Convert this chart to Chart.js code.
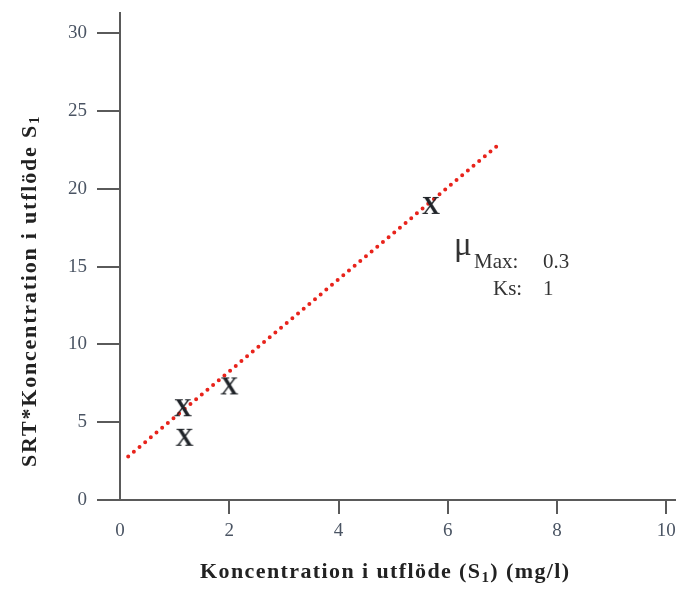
<!DOCTYPE html>
<html>
<head>
<meta charset="utf-8">
<script src="https://cdn.jsdelivr.net/npm/chart.js@4"></script>
<style>
  body { margin: 0; background: #fff; }
</style>
</head>
<body>
<canvas id="myChart" width="692" height="590"></canvas>
<script>
// measured points (S1, SRT*S1)
let pointsX = [1.15, 1.18, 2.0, 5.69];
let pointsY = [5.9, 4.0, 7.3, 18.9];

// fitted line, start and end
let trendX = [0.15, 6.95];
let trendY = [2.8, 22.9];

let xTicks = [0, 2, 4, 6, 8, 10];
let yTicks = [0, 5, 10, 15, 20, 25, 30];

let muMax = 0.3;
let ks = 1;

// the "X" marker used for each point
let xMark = document.createElement('canvas');
xMark.width = 30;
xMark.height = 30;
let mctx = xMark.getContext('2d');
mctx.font = 'bold 25px "Liberation Serif"';
mctx.fillStyle = '#1f2328';
mctx.textAlign = 'center';
mctx.textBaseline = 'alphabetic';
mctx.fillText('X', 15, 23.3);

let tickFont = { family: '"Liberation Serif"', size: 19 };
let tickColor = '#4a5463';
let axisColor = '#5a5a5a';

// axis titles and the parameter note, drawn as text
let textPlugin = {
    id: 'texts',
    afterDraw(chart) {
        let ctx = chart.ctx;
        ctx.save();
        ctx.fillStyle = '#222';
        ctx.textAlign = 'left';
        ctx.textBaseline = 'alphabetic';

        // x title
        ctx.letterSpacing = '1.4px';
        ctx.font = 'bold 22px "Liberation Serif"';
        let x = 200, y = 578;
        let a = 'Koncentration i utflöde (S';
        ctx.fillText(a, x, y);
        x += ctx.measureText(a).width;
        ctx.font = 'bold 15px "Liberation Serif"';
        ctx.fillText('1', x, y + 4);
        x += ctx.measureText('1').width;
        ctx.font = 'bold 22px "Liberation Serif"';
        ctx.fillText(') (mg/l)', x, y);

        // y title
        ctx.letterSpacing = '1.8px';
        ctx.translate(36, 467);
        ctx.rotate(-Math.PI / 2);
        let b = 'SRT*Koncentration i utflöde S';
        ctx.fillText(b, 0, 0);
        let w = ctx.measureText(b).width;
        ctx.font = 'bold 15px "Liberation Serif"';
        ctx.fillText('1', w, 3);
        ctx.restore();

        // parameters
        ctx.save();
        ctx.letterSpacing = '0px';
        ctx.fillStyle = '#333';
        ctx.textAlign = 'left';
        ctx.textBaseline = 'alphabetic';
        ctx.font = '33px "Liberation Serif"';
        ctx.fillText('\u03bc', 454, 255);
        ctx.font = '21px "Liberation Serif"';
        ctx.fillText('Max:', 474, 268);
        ctx.fillText(String(muMax), 543, 268);
        ctx.fillText('Ks:', 493, 295);
        ctx.fillText(String(ks), 543, 295);
        ctx.restore();
    }
};

let myChart = document.getElementById('myChart').getContext('2d');

let srtChart = new Chart(myChart, {
    type: 'scatter',
    data: {
        datasets: [{
            label: 'Mätpunkter',
            data: pointsX.map((v, i) => ({ x: v, y: pointsY[i] })),
            pointStyle: xMark,
            pointRadius: 12
        }, {
            type: 'line',
            label: 'Anpassning',
            data: trendX.map((v, i) => ({ x: v, y: trendY[i] })),
            borderColor: '#e8231b',
            borderWidth: 4,
            borderDash: [0, 7.4],
            borderCapStyle: 'round',
            pointRadius: 0,
            fill: false
        }]
    },
    plugins: [textPlugin],
    options: {
        responsive: false,
        animation: false,
        layout: { padding: { left: 0, right: 17, top: 12, bottom: 0 } },
        plugins: {
            legend: { display: false },
            tooltip: { enabled: false }
        },
        scales: {
            x: {
                type: 'linear',
                min: 0,
                max: 10.16,
                afterFit: s => { s.height = 90; s.paddingLeft = 0; s.paddingRight = 0; },
                afterBuildTicks: s => { s.ticks = xTicks.map(v => ({ value: v })); },
                border: { display: true, color: axisColor, width: 2 },
                grid: {
                    drawOnChartArea: false,
                    tickLength: 14,
                    lineWidth: 2,
                    color: c => (c.tick && c.tick.value === 0) ? 'rgba(0,0,0,0)' : axisColor
                },
                ticks: { font: tickFont, color: tickColor, padding: 6, maxRotation: 0 }
            },
            y: {
                type: 'linear',
                min: 0,
                max: 31.3,
                afterFit: s => { s.width = 120; s.paddingTop = 0; s.paddingBottom = 0; },
                afterBuildTicks: s => { s.ticks = yTicks.map(v => ({ value: v })); },
                border: { display: true, color: axisColor, width: 2 },
                grid: {
                    drawOnChartArea: false,
                    tickLength: 23,
                    lineWidth: 2,
                    color: axisColor
                },
                ticks: { font: tickFont, color: tickColor, padding: 10 }
            }
        }
    }
});
</script>
</body>
</html>
